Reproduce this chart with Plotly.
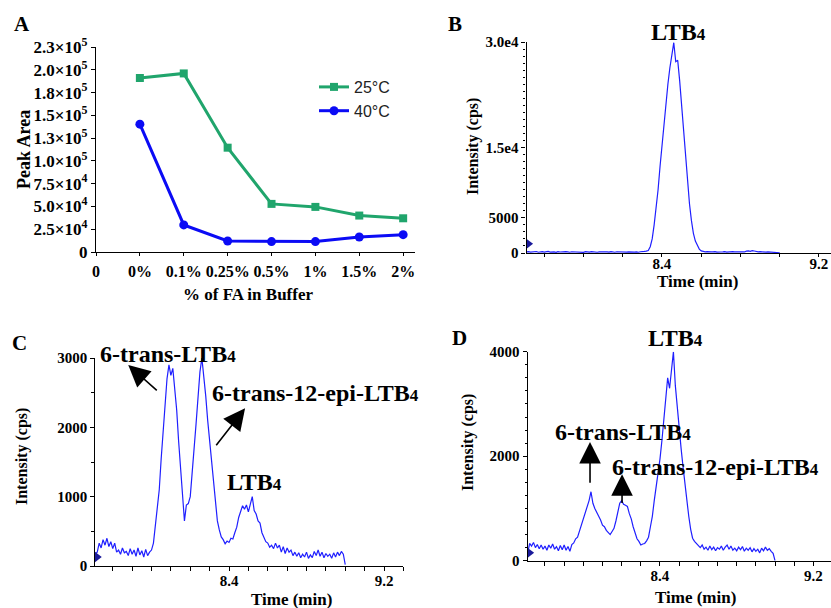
import plotly.graph_objects as go

W, H = 831, 608

# ---------------- Panel A data ----------------
fa_levels = ["0%", "0.1%", "0.25%", "0.5%", "1%", "1.5%", "2%"]
area_25C = [191000, 196000, 114500, 52800, 49500, 40000, 37000]
area_40C = [140300, 29700, 12100, 11400, 11400, 16500, 19000]
a_ytick_vals = [0, 25000, 50000, 75000, 100000, 125000, 150000, 175000, 200000, 225000]
a_ytick_text = ["0", "2.5×10<sup>4</sup>", "5.0×10<sup>4</sup>", "7.5×10<sup>4</sup>",
                "1.0×10<sup>5</sup>", "1.3×10<sup>5</sup>", "1.5×10<sup>5</sup>",
                "1.8×10<sup>5</sup>", "2.0×10<sup>5</sup>", "2.3×10<sup>5</sup>"]

# ---------------- Chromatograms (time grid 7.71 .. 9.00 min, step 0.01) ----------------
time_min = [round(7.71 + 0.01 * i, 2) for i in range(130)]

intensity_B = [
    150, 200, 120, 180, 140, 210, 110, 170, 190, 130,
    160, 220, 120, 180, 150, 100, 200, 140, 170, 120,
    190, 150, 110, 180, 160, 130, 210, 140, 170, 100,
    190, 150, 120, 180, 140, 200, 110, 160, 130, 190,
    150, 170, 120, 200, 140, 110, 180, 160, 130, 190,
    150, 120, 170, 140, 200, 130, 160, 110, 180, 150,
    220, 260, 350, 900, 2000, 4000, 6300, 9000, 12300, 15500,
    18500, 21300, 24000, 26300, 28200, 29900, 27200, 27400, 24500, 21000,
    17200, 13500, 10000, 7000, 4600, 2800, 1700, 1000, 550, 300,
    210, 160, 190, 130, 170, 150, 200, 120, 180, 140,
    160, 200, 130, 170, 110, 190, 150, 140, 180, 120,
    200, 150, 260, 310, 240, 330, 280, 200, 160, 190,
    140, 180, 120, 170, 150, 130, 190, 140, 110, 20,
]

intensity_C = [
    180, 200, 330, 260, 380, 300, 400, 280, 350, 250,
    330, 200, 230, 170, 260, 190, 210, 150, 250, 170,
    230, 140, 260, 160, 220, 130, 240, 150, 200, 230,
    330, 560, 800, 1100, 1550, 1950, 2400, 2700, 2900, 2750,
    2850, 2550, 2250, 1800, 1400, 1050, 650, 880, 900, 1000,
    1300, 1700, 2050, 2500, 2800, 3000, 2750, 2450, 2100, 1800,
    1500, 1150, 850, 650, 520, 420, 380, 320, 360, 340,
    400, 390, 480, 560, 700, 800, 870, 820, 880, 780,
    900, 1000, 800, 750, 650, 620, 480, 420, 350, 330,
    270, 300, 250, 330, 260, 300, 200, 280, 180, 260,
    200, 230, 150, 200, 140, 190, 120, 170, 130, 200,
    110, 160, 120, 210, 150, 230, 140, 200, 120, 180,
    140, 170, 110, 190, 130, 200, 150, 210, 170, 20,
]

intensity_D = [
    150, 330, 280, 350, 250, 310, 230, 300, 220, 280,
    200, 300, 240, 320, 220, 270, 190, 290, 210, 300,
    200, 270, 180, 310, 340, 420, 450, 560, 680, 820,
    930, 1000, 1150, 1320, 1100, 1000, 930, 850, 780, 680,
    650, 580, 540, 500, 560, 620, 760, 950, 1100, 1150,
    1080, 1060, 1040, 900, 800, 650, 530, 420, 370, 300,
    320, 330, 380, 450, 650, 850, 1150, 1400, 1700, 1950,
    2300, 2700, 3100, 3500, 3300, 3600, 4000, 3350, 2900, 2500,
    2150, 1800, 1450, 1150, 850, 600, 430, 370, 330, 290,
    250, 300, 220, 260, 200, 280, 210, 260, 190, 250,
    220, 280, 200, 260, 300, 220, 280, 200, 240, 190,
    260, 210, 270, 180, 240, 200, 250, 170, 230, 180,
    220, 150, 240, 190, 260, 200, 230, 180, 140, 0,
]

# instrument threshold markers (time, intensity) on each chromatogram
threshold_time = 7.72
threshold_B, threshold_C, threshold_D = 1300, 130, 150

# ---------------- styling helpers ----------------
SERIF = "Liberation Serif"
SANS = "Liberation Sans"
TRACE_BLUE = "#1f1fff"


def px(x):
    return x / W


def py(y):
    return 1 - y / H


fig = go.Figure()

# Panel A
xpos = list(range(1, len(fa_levels) + 1))
fig.add_trace(go.Scatter(x=xpos, y=area_25C, mode="lines+markers", name="25°C",
                         line=dict(color="#20a56c", width=3),
                         marker=dict(symbol="square", size=8, color="#20a56c"),
                         xaxis="x", yaxis="y", legendgroup="a"))
fig.add_trace(go.Scatter(x=xpos, y=area_40C, mode="lines+markers", name="40°C",
                         line=dict(color="#0b0bf5", width=3),
                         marker=dict(symbol="circle", size=9, color="#0b0bf5"),
                         xaxis="x", yaxis="y", legendgroup="b"))

# Chromatograms
for ax, vals, thr in (("2", intensity_B, threshold_B), ("3", intensity_C, threshold_C),
                      ("4", intensity_D, threshold_D)):
    fig.add_trace(go.Scatter(x=time_min, y=vals, mode="lines", showlegend=False,
                             line=dict(color=TRACE_BLUE, width=1.2),
                             xaxis="x" + ax, yaxis="y" + ax))
    fig.add_trace(go.Scatter(x=[threshold_time], y=[thr], mode="markers", showlegend=False,
                             marker=dict(symbol="triangle-right", size=9, color="#1a1a9a"),
                             cliponaxis=False, xaxis="x" + ax, yaxis="y" + ax))

tickfont = dict(family=SERIF, size=15, color="black", weight="bold")

axis_common = dict(showgrid=False, zeroline=False, showline=True, linecolor="black",
                   linewidth=1.3, ticks="outside", tickcolor="black", tickfont=tickfont)

# Panel A axes: x 96..415 px, y 252..47 px
fig.update_layout(
    xaxis=dict(axis_common, domain=[px(96), px(415)], range=[0, 7.27],
               tickvals=list(range(0, len(fa_levels) + 1)),
               ticktext=["0"] + fa_levels, ticklen=3, anchor="y", tickangle=0,
               tickfont=dict(tickfont, size=16), ticklabelstandoff=2),
    yaxis=dict(axis_common, domain=[py(252), py(47)], range=[0, 225000],
               tickvals=a_ytick_vals, ticktext=a_ytick_text, ticklen=4, anchor="x",
               tickfont=dict(tickfont, size=17)),
)

# Panel B: 8.4 at 662 px, 196.25 px/min; y 253..42
b_x0 = 662 - (8.4 - 7.71) * 196.25
b_xend = 8.4 + (831 - 662) / 196.25
fig.update_layout(
    xaxis2=dict(axis_common, domain=[px(b_x0), 1.0], range=[7.71, b_xend],
                tickvals=[8.4, 9.2], ticklen=3, anchor="y2", ticklabelstandoff=-6,
                minor=dict(dtick=0.2, tick0=8.4, ticks="outside", ticklen=3, tickcolor="black")),
    yaxis2=dict(axis_common, domain=[py(253), py(42)], range=[0, 30000],
                tickvals=[0, 5000, 15000, 30000], ticktext=["0", "5000", "1.5e4", "3.0e4"],
                ticklen=4, anchor="x2",
                minor=dict(dtick=1000, ticks="outside", ticklen=2, tickcolor="black")),
)

# Panel C: 8.4 at 229 px, 193.75 px/min; y 566..358
c_x0 = 229 - (8.4 - 7.71) * 193.75
c_x1 = 229 + (9.30 - 8.4) * 193.75
fig.update_layout(
    xaxis3=dict(axis_common, domain=[px(c_x0), px(c_x1)], range=[7.71, 9.30],
                tickvals=[8.4, 9.2], ticklen=4, anchor="y3", ticklabelstandoff=-3,
                minor=dict(dtick=0.1, tick0=8.4, ticks="outside", ticklen=4, tickcolor="black")),
    yaxis3=dict(axis_common, domain=[py(566), py(358)], range=[0, 3000],
                tickvals=[0, 1000, 2000, 3000], ticklen=4, anchor="x3",
                minor=dict(dtick=500, ticks="outside", ticklen=3, tickcolor="black")),
)

# Panel D: 8.4 at 660 px, 191.7 px/min; y 560.7..351.7
d_x0 = 660 - (8.4 - 7.71) * 191.7
d_xend = 8.4 + (831 - 660) / 191.7
fig.update_layout(
    xaxis4=dict(axis_common, domain=[px(d_x0), 1.0], range=[7.71, d_xend],
                tickvals=[8.4, 9.2], ticklen=4, anchor="y4", ticklabelstandoff=-3,
                minor=dict(dtick=0.1, tick0=8.4, ticks="outside", ticklen=4, tickcolor="black")),
    yaxis4=dict(axis_common, domain=[py(560.7), py(351.7)], range=[0, 4000],
                tickvals=[0, 2000, 4000], ticklen=4, anchor="x4",
                minor=dict(dtick=250, ticks="outside", ticklen=2, tickcolor="black")),
)

annotations = []


def text_at(x, y, text, size=14, angle=0, family=SERIF, bold=True):
    annotations.append(dict(x=px(x), y=py(y), xref="paper", yref="paper", text=text,
                            showarrow=False, textangle=angle, xanchor="center", yanchor="middle",
                            font=dict(family=family, size=size, color="black",
                                      weight="bold" if bold else "normal")))


def ltb(prefix=""):
    return prefix + "LTB<span style='font-size:17px'>4</span>"


# panel letters
text_at(22, 24, "A", size=21)
text_at(455, 24, "B", size=21)
text_at(19, 343, "C", size=21)
text_at(459, 338, "D", size=21)

# axis titles
text_at(24, 150, "Peak Area", size=18, angle=-90)
text_at(248, 294, "% of FA in Buffer", size=17)
text_at(473, 147, "Intensity (cps)", size=16, angle=-90)
text_at(697, 281, "Time (min)", size=17)
text_at(22, 457, "Intensity (cps)", size=16, angle=-90)
text_at(291, 599, "Time (min)", size=17)
text_at(468, 443, "Intensity (cps)", size=16, angle=-90)
text_at(695, 597, "Time (min)", size=17)

# peak labels
text_at(678, 32, ltb(), size=24)
text_at(168, 354, ltb("6-trans-"), size=24)
text_at(315, 393, ltb("6-trans-12-epi-"), size=24)
text_at(255, 482, ltb(), size=24)
text_at(675, 338, ltb(), size=24)
text_at(623, 432, ltb("6-trans-"), size=24)
text_at(715, 467, ltb("6-trans-12-epi-"), size=24)

# arrows (head at x/y, tail at ax/ay, in data units of each panel)
arrow_specs = [
    ("x3", "y3", 7.880, 2899, 8.035, 2514),
    ("x3", "y3", 8.483, 2275, 8.328, 1721),
    ("x4", "y4", 8.035, 2274, 8.035, 1463),
    ("x4", "y4", 8.202, 1656, 8.202, 1076),
]
for xr, yr, hx, hy, tx, ty in arrow_specs:
    annotations.append(dict(x=hx, y=hy, xref=xr, yref=yr, ax=tx, ay=ty, axref=xr, ayref=yr,
                            text="", showarrow=True, arrowhead=2, arrowsize=2.7,
                            arrowwidth=1.6, arrowcolor="black"))

fig.update_layout(
    width=W, height=H, margin=dict(l=0, r=0, t=0, b=0, autoexpand=False),
    autosize=False,
    paper_bgcolor="white", plot_bgcolor="white",
    annotations=annotations,
    showlegend=True,
    legend=dict(x=px(314), y=py(70), xanchor="left", yanchor="top",
                bgcolor="rgba(0,0,0,0)", borderwidth=0,
                font=dict(family=SANS, size=16, color="#222"),
                tracegroupgap=0, itemwidth=30),
)

fig.write_html(
    "out.html",
    config={"responsive": False, "displayModeBar": False},
    post_script="document.body.style.margin='0';document.body.style.padding='0';"
                "document.documentElement.style.overflow='hidden';",
)
